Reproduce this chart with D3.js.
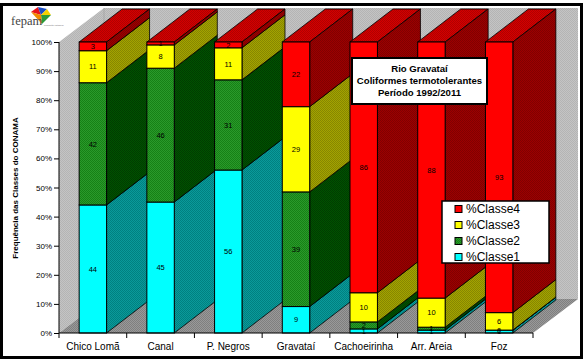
<!DOCTYPE html>
<html>
<head>
<meta charset="utf-8">
<script src="https://cdn.jsdelivr.net/npm/d3@7"></script>
<style>
body { margin: 0; background: #fff; }
svg { display: block; font-family: "Liberation Sans", Arial, sans-serif; }
</style>
</head>
<body>
<div class="chart"></div>
<script>
// data (percent per class)
const categories = ["Chico Lomã", "Canal", "P. Negros", "Gravataí", "Cachoeirinha", "Arr. Areia", "Foz"];
const classe1 = [44, 45, 56, 9, 1.4, 1, 1];
const classe2 = [42, 46, 31, 39, 2.4, 1, 0];
const classe3 = [11, 8, 11, 29, 10, 10, 6];
const classe4 = [3, 1, 2, 22, 86, 88, 93];
const seriesNames = ["%Classe1", "%Classe2", "%Classe3", "%Classe4"];
const yTickValues = [0, 0.1, 0.2, 0.3, 0.4, 0.5, 0.6, 0.7, 0.8, 0.9, 1];
const titleLines = ["Rio Gravataí", "Coliformes termotolerantes", "Período 1992/2011"];

const rows = categories.map((c, i) => ({
    cat: c,
    "%Classe1": classe1[i],
    "%Classe2": classe2[i],
    "%Classe3": classe3[i],
    "%Classe4": classe4[i]
}));

const width = 585;
const height = 363;
const svg = d3.select('.chart')
    .append('svg')
    .attr('width', width)
    .attr('height', height);

svg.append('rect').attr('width', width).attr('height', height).attr('fill', '#fff');

// dither patterns like the old excel rendering
const defs = svg.append('defs');
function checker(id, c1, c2) {
    const p = defs.append('pattern')
        .attr('id', id)
        .attr('patternUnits', 'userSpaceOnUse')
        .attr('width', 2).attr('height', 2);
    p.append('rect').attr('width', 2).attr('height', 2).attr('fill', c1);
    p.append('rect').attr('width', 1).attr('height', 1).attr('fill', c2);
    p.append('rect').attr('x', 1).attr('y', 1).attr('width', 1).attr('height', 1).attr('fill', c2);
}
checker('wall', '#c4c4c4', '#b4b4b4');
checker('floor', '#999999', '#7f7f7f');
checker('redTop', '#d40000', '#b00000');
checker('redSide', '#9c0000', '#800000');
checker('yelSide', '#a3a300', '#868600');
checker('grnFront', '#2a9a2a', '#168016');
checker('grnSide', '#005200', '#003c00');
checker('cyaSide', '#0a9a9a', '#008080');

const fronts = { "%Classe1": '#00ffff', "%Classe2": 'url(#grnFront)', "%Classe3": '#ffff00', "%Classe4": '#ff0000' };
const sides = { "%Classe1": 'url(#cyaSide)', "%Classe2": 'url(#grnSide)', "%Classe3": 'url(#yelSide)', "%Classe4": 'url(#redSide)' };
const tops = { "%Classe1": '#00cccc', "%Classe2": '#006600', "%Classe3": '#cccc00', "%Classe4": 'url(#redTop)' };

// scales
const left = 59, right = 533;
const x = d3.scaleBand().domain(categories).range([left, right]);
const y = d3.scaleLinear().domain([0, 1]).range([333, 42]);
const dx = 45, dy = 34;     // depth of walls
const bdx = 43, bdy = 33;   // depth of bars
const barW = x.bandwidth() * 0.405;

const stacked = d3.stack().keys(seriesNames).offset(d3.stackOffsetExpand)(rows);

// walls and floor
const pts = a => a.map(p => p.join(',')).join(' ');
svg.append('polygon')
    .attr('points', pts([[left, y(0)], [left, y(1)], [left + dx, y(1) - dy], [left + dx, y(0) - dy]]))
    .attr('fill', 'url(#wall)');
svg.append('rect')
    .attr('x', left + dx).attr('y', y(1) - dy)
    .attr('width', right - left).attr('height', y(0) - y(1))
    .attr('fill', 'url(#wall)');
svg.append('line')
    .attr('x1', left + dx).attr('x2', left + dx)
    .attr('y1', y(1) - dy).attr('y2', y(0) - dy)
    .attr('stroke', '#9a9a9a').attr('stroke-width', 0.6);
svg.append('polygon')
    .attr('points', pts([[left, y(0)], [right, y(0)], [right + dx, y(0) - dy], [left + dx, y(0) - dy]]))
    .attr('fill', 'url(#floor)');

// segments: left to right, bottom to top
const segs = [];
categories.forEach((c, i) => {
    stacked.forEach(s => {
        segs.push({ cat: c, key: s.key, y0: s[i][0], y1: s[i][1], v: s[i].data[s.key] });
    });
});

const g = svg.append('g');
segs.forEach(d => {
    const xa = x(d.cat) + (x.bandwidth() - barW) / 2;
    const xb = xa + barW;
    const ya = y(d.y1), yb = y(d.y0);
    g.append('polygon')
        .attr('points', pts([[xa, ya], [xa + bdx, ya - bdy], [xb + bdx, ya - bdy], [xb, ya]]))
        .attr('fill', tops[d.key]).attr('stroke', '#000').attr('stroke-width', 0.8);
    g.append('polygon')
        .attr('points', pts([[xb, ya], [xb + bdx, ya - bdy], [xb + bdx, yb - bdy], [xb, yb]]))
        .attr('fill', sides[d.key]).attr('stroke', '#000').attr('stroke-width', 0.8);
    g.append('rect')
        .attr('x', xa).attr('y', ya)
        .attr('width', barW).attr('height', yb - ya)
        .attr('fill', fronts[d.key]).attr('stroke', '#000').attr('stroke-width', 1);
});

// value labels
svg.append('g').selectAll('text')
    .data(segs)
    .join('text')
    .attr('x', d => x(d.cat) + x.bandwidth() / 2)
    .attr('y', d => (y(d.y0) + y(d.y1)) / 2 + 2.7)
    .attr('text-anchor', 'middle')
    .attr('font-size', 7.5)
    .attr('fill', '#000')
    .text(d => d3.format('.0f')(d.v));

// axes
const yAxis = svg.append('g')
    .attr('transform', `translate(${left},0)`)
    .call(d3.axisLeft(y).tickValues(yTickValues).tickFormat(d3.format('.0%')).tickSize(5).tickPadding(2));
yAxis.select('.domain').attr('stroke', '#000').attr('d', `M0,${y(1)}V${y(0)}`);
yAxis.selectAll('text').attr('font-size', 8).attr('font-family', '"Liberation Sans", Arial, sans-serif').attr('fill', '#000');

const xAxis = svg.append('g')
    .attr('transform', `translate(0,${y(0)})`)
    .call(d3.axisBottom(x).tickSize(0).tickPadding(10));
xAxis.select('.domain').attr('stroke', '#000').attr('d', `M${left},0H${right}`);
xAxis.selectAll('text').attr('font-size', 10).attr('font-family', '"Liberation Sans", Arial, sans-serif').attr('fill', '#000');
xAxis.selectAll('.sep')
    .data(d3.range(categories.length + 1))
    .join('line')
    .attr('x1', i => left + i * x.step()).attr('x2', i => left + i * x.step())
    .attr('y1', 0).attr('y2', 5)
    .attr('stroke', '#000');

svg.append('text')
    .attr('transform', 'translate(17.5,188) rotate(-90)')
    .attr('text-anchor', 'middle')
    .attr('font-size', 8)
    .attr('font-weight', 'bold')
    .text('Frequência das Classes do CONAMA');

// title box
svg.append('rect')
    .attr('x', 352).attr('y', 58).attr('width', 135).attr('height', 46)
    .attr('fill', '#fff').attr('stroke', '#000').attr('stroke-width', 2);
svg.append('g').selectAll('text')
    .data(titleLines)
    .join('text')
    .attr('x', 419.5)
    .attr('y', (d, i) => 71.5 + i * 12.3)
    .attr('text-anchor', 'middle')
    .attr('font-size', 9.6)
    .attr('font-weight', 'bold')
    .text(d => d);

// legend
const legendKeys = seriesNames.slice().reverse();
const legendFill = { "%Classe1": '#00ffff', "%Classe2": 'url(#grnFront)', "%Classe3": '#ffff00', "%Classe4": '#ff0000' };
svg.append('rect')
    .attr('x', 442).attr('y', 201).attr('width', 107).attr('height', 62)
    .attr('fill', '#fff').attr('stroke', '#000').attr('stroke-width', 1.5);
const leg = svg.append('g').selectAll('g')
    .data(legendKeys)
    .join('g')
    .attr('transform', (d, i) => `translate(455,${209 + i * 16})`);
leg.append('rect')
    .attr('x', 0).attr('y', -3.5).attr('width', 7).attr('height', 7)
    .attr('fill', d => legendFill[d]).attr('stroke', '#000');
leg.append('text')
    .attr('x', 11).attr('y', 4.3)
    .attr('font-size', 12)
    .text(d => d);

// logo
const logo = svg.append('g');
const c = [41, 15];
const diamond = [[[31, 12], [38, 7], c, '#e8141c'], [[38, 7], [47, 9], c, '#1c4fc4'], [[47, 9], [51, 15], c, '#f4d000'], [[51, 15], [42, 24], c, '#2a9a3a'], [[42, 24], [31, 12], c, '#f08a00']];
logo.selectAll('polygon')
    .data(diamond)
    .join('polygon')
    .attr('points', d => pts(d.slice(0, 3)))
    .attr('fill', d => d[3]);
logo.append('text')
    .attr('x', 11).attr('y', 25)
    .attr('font-family', '"Liberation Serif", serif')
    .attr('font-size', 12.5)
    .attr('fill', '#444')
    .text('fepam');
logo.append('text')
    .attr('x', 44).attr('y', 25.5)
    .attr('font-size', 2.4)
    .attr('fill', '#777')
    .text('fundação estadual');

// outer frame
svg.append('rect')
    .attr('x', 1.5).attr('y', 4.5).attr('width', 580).attr('height', 353)
    .attr('fill', 'none').attr('stroke', '#000').attr('stroke-width', 3);
</script>
</body>
</html>
